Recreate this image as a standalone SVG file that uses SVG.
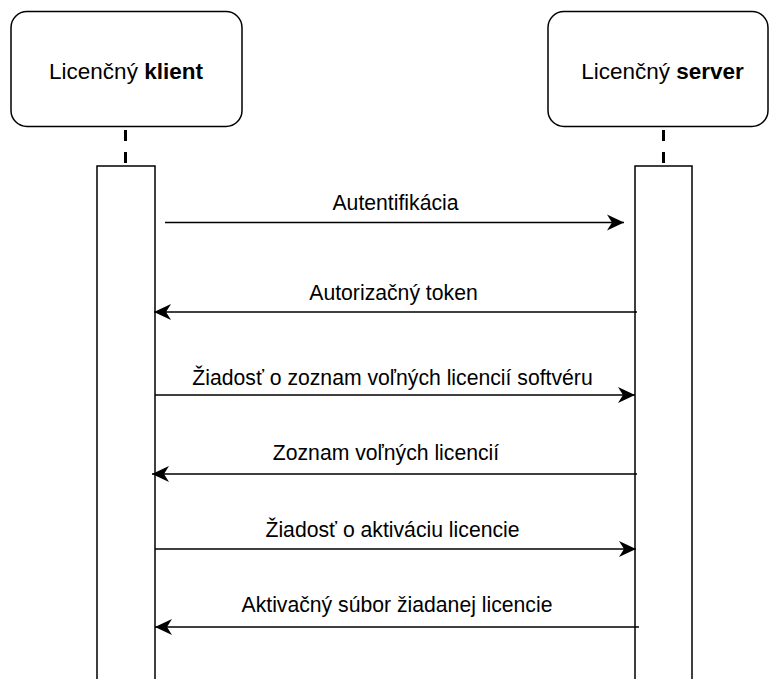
<svg xmlns="http://www.w3.org/2000/svg" width="769" height="679" viewBox="0 0 769 679">
  <style>
    .box { fill: #ffffff; stroke: #000000; stroke-width: 1.5; }
    .life { stroke: #000000; stroke-width: 3; stroke-dasharray: 11 11; fill: none; }
    .msg { stroke: #000000; stroke-width: 1.5; fill: none; marker-end: url(#head); }
    .lbl { font-family: "Liberation Sans", Arial, sans-serif; font-size: 21.2px; fill: #000000; text-anchor: middle; }
    .title { font-family: "Liberation Sans", Arial, sans-serif; font-size: 22.5px; fill: #000000; text-anchor: middle; }
  </style>
  <defs>
    <marker id="head" markerUnits="userSpaceOnUse" markerWidth="18" markerHeight="18" viewBox="-17 -8 18 16" refX="0" refY="0" orient="auto">
      <path d="M0 0 L-17 -8 L-12 0 L-17 8 Z" fill="#000000"/>
    </marker>
  </defs>
  <rect width="769" height="679" fill="#ffffff"/>

  <g id="client">
    <rect class="box" x="11" y="11.5" width="231" height="115" rx="16" ry="16"/>
    <text class="title" x="126" y="79">Licenčný <tspan font-weight="bold">klient</tspan></text>
    <line class="life" x1="125.5" y1="130" x2="125.5" y2="166"/>
    <rect class="box" x="97" y="166" width="58" height="520"/>
  </g>

  <g id="server">
    <rect class="box" x="548" y="11.5" width="220" height="115" rx="16" ry="16"/>
    <text class="title" x="662.5" y="79">Licenčný <tspan font-weight="bold">server</tspan></text>
    <line class="life" x1="663.5" y1="130" x2="663.5" y2="166"/>
    <rect class="box" x="635" y="166" width="57" height="520"/>
  </g>

  <g id="messages">
    <line class="msg" x1="165" y1="222.5" x2="624" y2="222.5"/>
    <text class="lbl" x="395.5" y="210">Autentifikácia</text>

    <line class="msg" x1="637" y1="312" x2="154" y2="312"/>
    <text class="lbl" x="393.5" y="300">Autorizačný token</text>

    <line class="msg" x1="155" y1="395" x2="635" y2="395"/>
    <text class="lbl" x="392.5" y="385">Žiadosť o zoznam voľných licencií softvéru</text>

    <line class="msg" x1="637" y1="474" x2="152" y2="474"/>
    <text class="lbl" x="386" y="460">Zoznam voľných licencií</text>

    <line class="msg" x1="155" y1="549" x2="636" y2="549"/>
    <text class="lbl" x="392.5" y="537">Žiadosť o aktiváciu licencie</text>

    <line class="msg" x1="639" y1="627" x2="155" y2="627"/>
    <text class="lbl" x="397" y="612">Aktivačný súbor žiadanej licencie</text>
  </g>
</svg>
